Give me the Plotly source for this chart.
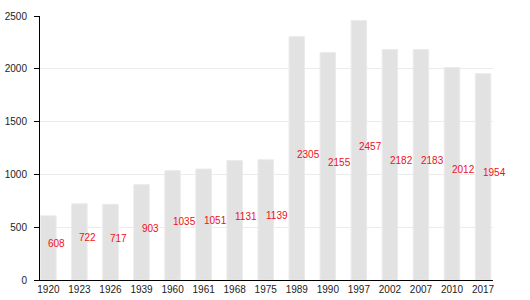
import plotly.graph_objects as go

years = ["1920", "1923", "1926", "1939", "1960", "1961", "1968", "1975",
         "1989", "1990", "1997", "2002", "2007", "2010", "2017"]
population = [608, 722, 717, 903, 1035, 1051, 1131, 1139,
              2305, 2155, 2457, 2182, 2183, 2012, 1954]
y_ticks = [0, 500, 1000, 1500, 2000, 2500]

fig = go.Figure()
fig.add_trace(go.Bar(
    x=list(range(len(years))), y=population, width=0.5,
    marker=dict(color="#e2e2e2", line=dict(color="#ebebeb", width=1)),
    hoverinfo="skip",
))

for i, v in enumerate(population):
    fig.add_annotation(
        x=i, y=v / 2, text=str(v), showarrow=False,
        xanchor="left", yanchor="middle", xshift=-2, yshift=4,
        font=dict(family="Liberation Sans, Arial", size=10, color="#f01020"),
    )

fig.update_layout(
    width=530, height=300,
    margin=dict(l=40, r=37, t=16, b=20),
    paper_bgcolor="white", plot_bgcolor="white",
    showlegend=False,
    font=dict(family="Liberation Sans, Arial", size=10, color="#222"),
    xaxis=dict(
        tickmode="array", tickvals=list(range(len(years))), ticktext=years,
        range=[-0.27, 14.32], showgrid=False, zeroline=False,
        showline=True, linecolor="black", linewidth=1, automargin=False,
        ticks="", tickfont=dict(size=10, color="#222"),
    ),
    yaxis=dict(
        range=[0, 2500], tickvals=y_ticks, automargin=False,
        showgrid=True, gridcolor="#ebebeb", gridwidth=1,
        zeroline=False, showline=True, linecolor="black", linewidth=1,
        ticks="outside", ticklen=5, tickcolor="black", ticklabelstandoff=5,
        tickfont=dict(size=10, color="#222"),
    ),
)

fig.write_html("out.html")
